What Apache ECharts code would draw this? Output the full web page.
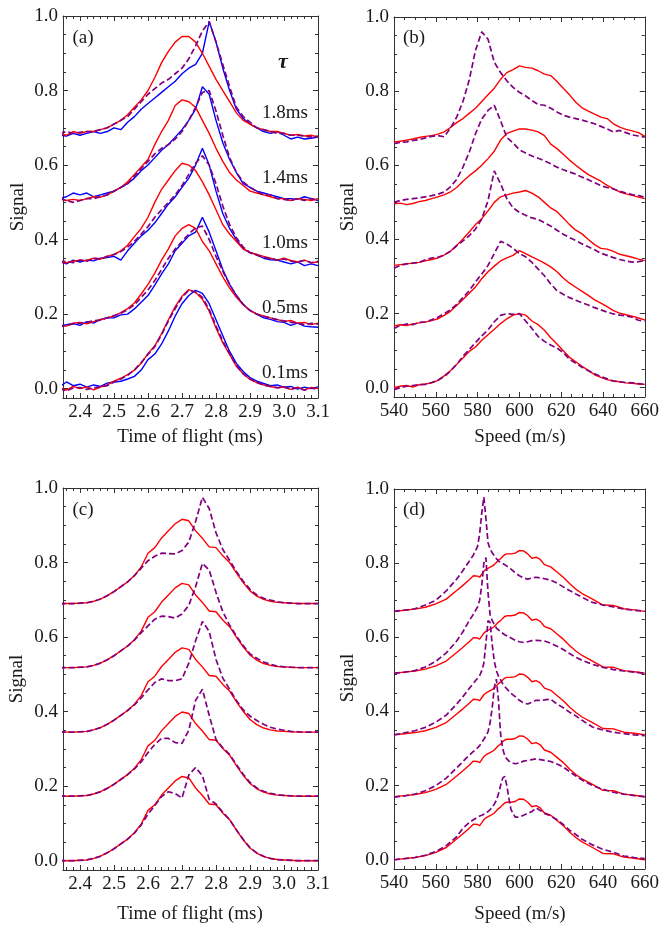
<!DOCTYPE html>
<html><head><meta charset="utf-8">
<script src="https://cdn.jsdelivr.net/npm/echarts@6/dist/echarts.min.js"></script>
<style>html,body{margin:0;padding:0;background:#fff}#c{width:662px;height:925px}</style>
</head><body><div id="c"></div>
<script>
// ---------- DATA ----------
const tofGrid = [2.34,2.36,2.38,2.40,2.42,2.44,2.46,2.48,2.50,2.52,2.54,2.56,2.58,2.60,2.62,2.64,2.66,2.68,2.70,2.72,2.74,2.76,2.78,2.80,2.82,2.84,2.86,2.88,2.90,2.92,2.94,2.96,2.98,3.00,3.02,3.04,3.06,3.08,3.10];
const speedGridB = [540,543,546,549,552,555,558,561,564,567,570,573,576,579,582,585,588,591,594,597,600,603,606,609,612,615,618,621,624,627,630,633,636,639,642,645,648,651,654,657,660];
const speedGridD = [540,545,550,555,560,565,570,573,576,578,580,581,582,583,584,585,586,587,588,589,590,591,592,593,594,595,596,598,600,602,604,606,608,610,612,615,618,621,624,627,630,635,640,645,650,655,660];

const tauLabels = ['0.1ms','0.5ms','1.0ms','1.4ms','1.8ms'];
const tofTicks = [2.4,2.5,2.6,2.7,2.8,2.9,3.0,3.1];
const speedTicks = [540,560,580,600,620,640,660];
const signalTicks = [0,0.2,0.4,0.6,0.8,1.0];

// panel (a): time of flight, red / blue / purple dashed
const aRed01 = [0.003,-0.004,0.006,0.0,0.005,-0.003,0.004,0.01,0.02,0.028,0.038,0.05,0.068,0.094,0.115,0.148,0.185,0.22,0.248,0.266,0.258,0.24,0.208,0.163,0.123,0.092,0.06,0.04,0.025,0.016,0.01,0.006,0.002,0.005,-0.002,0.004,-0.003,0.003,0.0];
const aBlue01 = [0.005,0.018,0.008,0.012,0.004,0.01,0.006,0.015,0.018,0.02,0.026,0.033,0.05,0.078,0.093,0.12,0.155,0.195,0.228,0.25,0.264,0.256,0.228,0.185,0.142,0.1,0.068,0.046,0.03,0.02,0.014,0.008,0.01,0.004,0.006,-0.001,0.004,0.0,0.005];
const aPur01 = [0.0,-0.006,0.002,0.003,-0.002,0.002,0.005,0.008,0.018,0.026,0.036,0.05,0.07,0.092,0.113,0.145,0.182,0.215,0.245,0.264,0.26,0.245,0.212,0.168,0.128,0.094,0.062,0.04,0.026,0.017,0.01,0.006,0.003,0.004,-0.001,0.002,-0.004,0.002,-0.002];
const aRed05 = [0.17,0.168,0.176,0.178,0.174,0.18,0.185,0.19,0.195,0.204,0.215,0.23,0.254,0.28,0.31,0.345,0.375,0.41,0.43,0.44,0.43,0.395,0.37,0.335,0.3,0.27,0.245,0.225,0.21,0.2,0.195,0.19,0.186,0.18,0.183,0.176,0.178,0.172,0.176];
const aBlue05 = [0.168,0.172,0.175,0.17,0.18,0.176,0.186,0.19,0.19,0.198,0.2,0.214,0.232,0.25,0.278,0.308,0.335,0.37,0.39,0.41,0.42,0.46,0.42,0.37,0.32,0.28,0.25,0.226,0.21,0.2,0.19,0.186,0.18,0.178,0.17,0.176,0.168,0.166,0.165];
const aPur05 = [0.166,0.17,0.174,0.176,0.178,0.182,0.184,0.19,0.196,0.202,0.212,0.225,0.245,0.265,0.29,0.32,0.35,0.375,0.395,0.415,0.432,0.436,0.4,0.355,0.315,0.28,0.25,0.226,0.21,0.2,0.194,0.19,0.185,0.182,0.178,0.176,0.172,0.175,0.173];
const aRed10 = [0.34,0.338,0.342,0.345,0.344,0.35,0.348,0.355,0.36,0.37,0.385,0.408,0.43,0.46,0.5,0.535,0.56,0.585,0.605,0.6,0.585,0.555,0.52,0.48,0.44,0.415,0.395,0.375,0.365,0.36,0.355,0.35,0.345,0.35,0.344,0.34,0.345,0.338,0.34];
const aBlue10 = [0.34,0.335,0.345,0.34,0.345,0.343,0.35,0.352,0.355,0.345,0.37,0.39,0.41,0.425,0.445,0.47,0.495,0.515,0.54,0.565,0.6,0.645,0.6,0.53,0.47,0.43,0.4,0.375,0.365,0.36,0.35,0.346,0.345,0.34,0.335,0.34,0.33,0.335,0.33];
const aPur10 = [0.34,0.342,0.338,0.345,0.342,0.35,0.348,0.355,0.36,0.368,0.38,0.395,0.415,0.435,0.46,0.48,0.5,0.52,0.545,0.575,0.605,0.625,0.6,0.55,0.49,0.44,0.405,0.38,0.365,0.358,0.352,0.35,0.345,0.348,0.342,0.34,0.344,0.338,0.342];
const aRed14 = [0.51,0.505,0.508,0.505,0.51,0.515,0.514,0.52,0.53,0.54,0.555,0.575,0.595,0.615,0.655,0.69,0.72,0.76,0.775,0.77,0.755,0.72,0.685,0.645,0.61,0.58,0.56,0.545,0.53,0.525,0.52,0.515,0.51,0.51,0.505,0.51,0.508,0.505,0.51];
const aBlue14 = [0.51,0.515,0.525,0.52,0.525,0.515,0.52,0.525,0.53,0.54,0.55,0.565,0.585,0.6,0.62,0.64,0.655,0.675,0.695,0.72,0.75,0.81,0.79,0.72,0.66,0.615,0.58,0.55,0.54,0.53,0.525,0.52,0.515,0.51,0.51,0.508,0.515,0.51,0.505];
const aPur14 = [0.51,0.505,0.5,0.505,0.51,0.51,0.515,0.52,0.53,0.54,0.55,0.57,0.59,0.61,0.63,0.645,0.655,0.67,0.69,0.72,0.755,0.795,0.8,0.745,0.68,0.62,0.58,0.555,0.54,0.53,0.52,0.52,0.51,0.508,0.505,0.51,0.505,0.51,0.505];
const aRed18 = [0.685,0.68,0.69,0.685,0.69,0.69,0.695,0.7,0.71,0.72,0.735,0.755,0.775,0.8,0.835,0.875,0.905,0.93,0.945,0.945,0.93,0.9,0.865,0.83,0.8,0.77,0.74,0.72,0.71,0.7,0.695,0.69,0.69,0.685,0.68,0.682,0.678,0.68,0.675];
const aBlue18 = [0.68,0.678,0.685,0.68,0.685,0.69,0.685,0.69,0.7,0.695,0.715,0.73,0.75,0.765,0.78,0.795,0.81,0.825,0.845,0.86,0.87,0.9,0.985,0.93,0.86,0.8,0.75,0.725,0.71,0.7,0.69,0.685,0.69,0.68,0.67,0.675,0.67,0.672,0.675];
const aPur18 = [0.685,0.69,0.685,0.688,0.69,0.69,0.695,0.7,0.71,0.72,0.73,0.75,0.77,0.79,0.805,0.82,0.83,0.845,0.86,0.885,0.92,0.96,0.985,0.93,0.87,0.81,0.755,0.73,0.715,0.7,0.695,0.69,0.685,0.685,0.68,0.68,0.678,0.675,0.678];

// panel (b): speed, red / purple dashed
const bRed1 = [0,0.004,0.006,0.002,0.008,0.01,0.013,0.02,0.032,0.046,0.063,0.08,0.098,0.11,0.128,0.143,0.158,0.173,0.186,0.196,0.2,0.196,0.18,0.17,0.155,0.135,0.118,0.1,0.082,0.07,0.058,0.047,0.035,0.028,0.022,0.018,0.016,0.013,0.012,0.01,0.009];
const bPur1 = [-0.005,0.0,0.004,0.006,0.008,0.009,0.014,0.02,0.03,0.045,0.063,0.085,0.103,0.122,0.14,0.156,0.178,0.195,0.2,0.198,0.2,0.18,0.16,0.138,0.125,0.115,0.107,0.095,0.077,0.066,0.055,0.046,0.038,0.03,0.024,0.018,0.016,0.014,0.013,0.011,0.009];
const bRed2 = [0.167,0.17,0.168,0.172,0.175,0.177,0.181,0.186,0.195,0.206,0.222,0.238,0.255,0.272,0.294,0.313,0.328,0.342,0.35,0.357,0.37,0.362,0.353,0.345,0.336,0.326,0.313,0.296,0.282,0.271,0.26,0.249,0.237,0.228,0.219,0.208,0.201,0.197,0.193,0.188,0.183];
const bPur2 = [0.16,0.168,0.172,0.17,0.176,0.178,0.183,0.19,0.2,0.21,0.225,0.243,0.262,0.285,0.307,0.33,0.362,0.395,0.388,0.376,0.362,0.353,0.338,0.32,0.302,0.28,0.262,0.252,0.243,0.236,0.229,0.223,0.216,0.21,0.204,0.199,0.196,0.194,0.19,0.182,0.18];
const bRed3 = [0.33,0.332,0.334,0.336,0.338,0.342,0.346,0.35,0.358,0.368,0.384,0.401,0.42,0.44,0.456,0.477,0.5,0.515,0.52,0.525,0.528,0.532,0.525,0.515,0.5,0.485,0.475,0.458,0.44,0.425,0.415,0.4,0.386,0.376,0.374,0.368,0.36,0.356,0.352,0.347,0.343];
const bPur3 = [0.322,0.33,0.334,0.336,0.338,0.345,0.35,0.352,0.358,0.368,0.383,0.396,0.41,0.428,0.455,0.505,0.585,0.55,0.51,0.485,0.473,0.465,0.458,0.454,0.445,0.436,0.425,0.414,0.405,0.397,0.388,0.38,0.372,0.363,0.357,0.351,0.346,0.342,0.339,0.34,0.343];
const bRed4 = [0.496,0.498,0.494,0.497,0.502,0.505,0.51,0.515,0.52,0.528,0.54,0.557,0.572,0.585,0.6,0.618,0.638,0.668,0.686,0.692,0.698,0.698,0.695,0.69,0.68,0.657,0.645,0.63,0.614,0.6,0.587,0.575,0.566,0.557,0.546,0.537,0.528,0.523,0.519,0.514,0.51];
const bPur4 = [0.5,0.505,0.508,0.51,0.512,0.515,0.518,0.522,0.528,0.542,0.562,0.595,0.635,0.685,0.725,0.748,0.762,0.72,0.675,0.66,0.642,0.633,0.625,0.619,0.612,0.604,0.595,0.588,0.582,0.576,0.568,0.561,0.553,0.545,0.54,0.536,0.53,0.525,0.521,0.518,0.514];
const bRed5 = [0.663,0.665,0.668,0.671,0.675,0.678,0.68,0.684,0.69,0.702,0.715,0.726,0.74,0.754,0.772,0.79,0.808,0.832,0.85,0.858,0.868,0.864,0.862,0.855,0.846,0.842,0.826,0.808,0.79,0.77,0.755,0.746,0.738,0.73,0.726,0.712,0.703,0.697,0.693,0.688,0.678];
const bPur5 = [0.658,0.662,0.663,0.667,0.669,0.674,0.678,0.68,0.677,0.7,0.73,0.772,0.83,0.91,0.96,0.94,0.878,0.85,0.828,0.81,0.797,0.787,0.775,0.764,0.762,0.754,0.744,0.735,0.73,0.726,0.722,0.717,0.712,0.705,0.698,0.69,0.694,0.688,0.682,0.679,0.676];

// panel (c): time of flight, red / purple dashed
const cRed1 = [0,0,0,0.001,0.002,0.006,0.012,0.021,0.032,0.045,0.058,0.075,0.098,0.135,0.15,0.176,0.195,0.214,0.226,0.222,0.195,0.175,0.152,0.15,0.128,0.11,0.082,0.056,0.034,0.02,0.011,0.006,0.003,0.002,0.001,0,0,0,0];
const cPur1 = [0,0,0,0.001,0.002,0.006,0.012,0.021,0.032,0.045,0.058,0.074,0.096,0.125,0.148,0.172,0.185,0.18,0.168,0.23,0.25,0.228,0.165,0.152,0.13,0.11,0.083,0.057,0.035,0.021,0.012,0.006,0.003,0.002,0.001,0,0,0,0];
const cRed2 = [0.173,0.173,0.173,0.174,0.175,0.179,0.185,0.194,0.205,0.218,0.231,0.248,0.271,0.308,0.323,0.349,0.368,0.387,0.399,0.395,0.368,0.348,0.325,0.323,0.301,0.283,0.255,0.229,0.207,0.193,0.184,0.179,0.176,0.175,0.174,0.173,0.173,0.173,0.173];
const cPur2 = [0.173,0.173,0.173,0.174,0.175,0.179,0.185,0.194,0.205,0.218,0.231,0.246,0.265,0.29,0.312,0.328,0.328,0.317,0.315,0.35,0.43,0.46,0.39,0.325,0.303,0.285,0.258,0.232,0.21,0.195,0.186,0.181,0.177,0.175,0.174,0.173,0.173,0.173,0.173];
const cRed3 = [0.345,0.345,0.345,0.346,0.347,0.351,0.357,0.366,0.377,0.39,0.403,0.42,0.443,0.48,0.495,0.521,0.54,0.559,0.571,0.567,0.54,0.52,0.497,0.495,0.473,0.455,0.427,0.401,0.379,0.365,0.356,0.351,0.348,0.347,0.346,0.345,0.345,0.345,0.345];
const cPur3 = [0.345,0.345,0.345,0.346,0.347,0.351,0.357,0.366,0.377,0.39,0.403,0.418,0.437,0.458,0.478,0.488,0.483,0.483,0.488,0.53,0.59,0.642,0.615,0.54,0.49,0.46,0.43,0.405,0.388,0.376,0.366,0.358,0.353,0.35,0.347,0.346,0.345,0.345,0.345];
const cRed4 = [0.518,0.518,0.518,0.519,0.52,0.524,0.53,0.539,0.55,0.563,0.576,0.593,0.616,0.653,0.668,0.694,0.713,0.732,0.744,0.74,0.713,0.693,0.67,0.668,0.646,0.628,0.6,0.574,0.552,0.538,0.529,0.524,0.521,0.52,0.519,0.518,0.518,0.518,0.518];
const cPur4 = [0.518,0.518,0.518,0.519,0.52,0.524,0.53,0.539,0.55,0.563,0.576,0.592,0.612,0.63,0.648,0.656,0.655,0.651,0.662,0.685,0.735,0.798,0.78,0.72,0.668,0.632,0.603,0.577,0.555,0.543,0.533,0.527,0.522,0.52,0.519,0.518,0.518,0.518,0.518];
const cRed5 = [0.69,0.69,0.69,0.691,0.692,0.696,0.702,0.711,0.722,0.735,0.748,0.765,0.788,0.825,0.84,0.866,0.885,0.904,0.916,0.912,0.885,0.865,0.842,0.84,0.818,0.8,0.772,0.746,0.724,0.71,0.701,0.696,0.693,0.692,0.691,0.69,0.69,0.69,0.69];
const cPur5 = [0.69,0.69,0.69,0.691,0.692,0.696,0.702,0.711,0.722,0.735,0.748,0.765,0.785,0.805,0.817,0.825,0.824,0.823,0.832,0.855,0.91,0.975,0.945,0.88,0.835,0.806,0.776,0.75,0.728,0.713,0.704,0.699,0.695,0.692,0.691,0.69,0.69,0.69,0.69];

// panel (d): speed, red / purple dashed
const dRed1 = [0,0.003,0.006,0.011,0.02,0.033,0.056,0.07,0.085,0.096,0.095,0.092,0.1,0.108,0.113,0.116,0.119,0.122,0.126,0.132,0.138,0.142,0.148,0.153,0.155,0.155,0.155,0.157,0.164,0.163,0.155,0.143,0.146,0.14,0.126,0.12,0.106,0.092,0.075,0.06,0.048,0.033,0.017,0.016,0.007,0.004,0];
const dPur1 = [0,0.003,0.006,0.012,0.022,0.038,0.062,0.085,0.1,0.108,0.115,0.118,0.12,0.123,0.126,0.13,0.135,0.142,0.15,0.16,0.178,0.2,0.22,0.225,0.2,0.165,0.135,0.115,0.115,0.12,0.125,0.13,0.14,0.133,0.125,0.118,0.108,0.095,0.08,0.068,0.055,0.04,0.028,0.02,0.01,0.006,0.003];
const dRed2 = [0.17,0.173,0.176,0.181,0.19,0.203,0.226,0.24,0.255,0.266,0.265,0.262,0.27,0.278,0.283,0.286,0.289,0.292,0.296,0.302,0.308,0.312,0.318,0.323,0.325,0.325,0.325,0.327,0.334,0.333,0.325,0.313,0.316,0.31,0.296,0.29,0.276,0.262,0.245,0.23,0.218,0.203,0.187,0.186,0.177,0.174,0.17];
const dPur2 = [0.169,0.172,0.177,0.186,0.2,0.22,0.248,0.265,0.282,0.292,0.302,0.308,0.316,0.325,0.335,0.345,0.37,0.41,0.465,0.487,0.43,0.34,0.3,0.28,0.272,0.266,0.262,0.259,0.261,0.266,0.268,0.27,0.272,0.27,0.268,0.265,0.258,0.25,0.238,0.226,0.215,0.2,0.19,0.182,0.177,0.173,0.17];
const dRed3 = [0.337,0.34,0.343,0.348,0.357,0.37,0.393,0.407,0.422,0.433,0.432,0.429,0.437,0.445,0.45,0.453,0.456,0.459,0.463,0.469,0.475,0.479,0.485,0.49,0.492,0.492,0.492,0.494,0.501,0.5,0.492,0.48,0.483,0.477,0.463,0.457,0.443,0.429,0.412,0.397,0.385,0.37,0.354,0.353,0.344,0.341,0.337];
const dPur3 = [0.337,0.342,0.348,0.357,0.371,0.39,0.42,0.44,0.462,0.476,0.49,0.497,0.51,0.53,0.585,0.645,0.64,0.58,0.535,0.51,0.495,0.485,0.475,0.467,0.461,0.455,0.449,0.44,0.43,0.423,0.42,0.425,0.43,0.43,0.431,0.433,0.42,0.41,0.398,0.388,0.376,0.358,0.35,0.344,0.34,0.337,0.335];
const dRed4 = [0.503,0.506,0.509,0.514,0.523,0.536,0.559,0.573,0.588,0.599,0.598,0.595,0.603,0.611,0.616,0.619,0.622,0.625,0.629,0.635,0.641,0.645,0.651,0.656,0.658,0.658,0.658,0.66,0.667,0.666,0.658,0.646,0.649,0.643,0.629,0.623,0.609,0.595,0.578,0.563,0.551,0.536,0.52,0.519,0.51,0.507,0.503];
const dPur4 = [0.503,0.506,0.51,0.52,0.535,0.558,0.59,0.615,0.645,0.662,0.682,0.7,0.74,0.8,0.815,0.72,0.66,0.645,0.635,0.625,0.62,0.615,0.611,0.607,0.604,0.601,0.598,0.592,0.588,0.586,0.588,0.591,0.592,0.591,0.59,0.584,0.576,0.567,0.556,0.546,0.538,0.527,0.519,0.513,0.509,0.506,0.503];
const dRed5 = [0.67,0.673,0.676,0.681,0.69,0.703,0.726,0.74,0.755,0.766,0.765,0.762,0.77,0.778,0.783,0.786,0.789,0.792,0.796,0.802,0.808,0.812,0.818,0.823,0.825,0.825,0.825,0.827,0.834,0.833,0.825,0.813,0.816,0.81,0.796,0.79,0.776,0.762,0.745,0.73,0.718,0.703,0.687,0.686,0.677,0.674,0.67];
const dPur5 = [0.67,0.673,0.677,0.687,0.7,0.725,0.757,0.78,0.805,0.822,0.845,0.88,0.935,0.978,0.92,0.855,0.838,0.828,0.82,0.812,0.806,0.802,0.799,0.796,0.792,0.788,0.784,0.774,0.766,0.76,0.757,0.76,0.762,0.76,0.758,0.754,0.746,0.736,0.726,0.717,0.708,0.694,0.687,0.682,0.676,0.673,0.67];

// ---------- STYLE / LAYOUT ----------
const FONT = '"Liberation Serif", "Times New Roman", serif';
const AX = '#333';
const TXT = '#1a1a1a';
const RED = '#ff0000', BLUE = '#0000ff', PURPLE = '#800080';

const grids = [
  {left: 63, top: 16, width: 255, height: 382},
  {left: 394, top: 17, width: 253, height: 380},
  {left: 63, top: 488, width: 255, height: 382},
  {left: 394, top: 489, width: 253, height: 380}
];

function stepList(a, b, step, dec) {
  const out = [];
  const n = Math.round((b - a) / step);
  for (let k = 0; k <= n; k++) out.push(+(a + k * step).toFixed(dec));
  return out;
}
const tofMinor = stepList(2.36, 3.10, 0.02, 2);
const speedMinor = stepList(540, 660, 5, 0);
const signalMinor = stepList(0, 1, 0.05, 2);

function axesFor(dim, gi, min, max, majors, minors, fmt) {
  const sides = dim === 'x' ? ['bottom', 'top'] : ['left', 'right'];
  const out = [];
  sides.forEach((pos, si) => {
    out.push({
      type: 'value', gridIndex: gi, position: pos, min: min, max: max,
      splitLine: {show: false},
      axisLine: {show: true, onZero: false, lineStyle: {color: AX, width: 1}},
      axisTick: {show: true, inside: true, length: 5, customValues: majors, lineStyle: {color: AX, width: 1}},
      axisLabel: {show: si === 0, customValues: majors, formatter: fmt, margin: 5,
        fontFamily: FONT, fontSize: 19, color: TXT}
    });
    out.push({
      type: 'value', gridIndex: gi, position: pos, min: min, max: max,
      splitLine: {show: false},
      axisLine: {show: false, onZero: false},
      axisTick: {show: true, inside: true, length: 3, customValues: minors, lineStyle: {color: AX, width: 1}},
      axisLabel: {show: false}
    });
  });
  return out;
}

const f1 = v => Number(v).toFixed(1);
const f0 = v => String(Math.round(v));

let xAxes = [], yAxes = [];
[0, 1, 2, 3].forEach(gi => {
  const isTof = (gi === 0 || gi === 2);
  xAxes = xAxes.concat(isTof
    ? axesFor('x', gi, 2.35, 3.1, tofTicks, tofMinor, f1)
    : axesFor('x', gi, 540, 660, speedTicks, speedMinor, f0));
  yAxes = yAxes.concat(axesFor('y', gi, -0.025, 1.0, signalTicks, signalMinor, f1));
});

function line(gi, xs, ys, kind) {
  const color = kind === 'r' ? RED : (kind === 'b' ? BLUE : PURPLE);
  return {
    type: 'line', xAxisIndex: gi * 4, yAxisIndex: gi * 4,
    data: xs.map((x, i) => [x, ys[i]]),
    showSymbol: false, symbol: 'none', animation: false, clip: true,
    lineStyle: {color: color, width: kind === 'p' ? 1.7 : 1.4, type: kind === 'p' ? [6, 3] : 'solid'},
    z: kind === 'p' ? 4 : (kind === 'r' ? 3 : 2)
  };
}

const series = [];
[[aBlue01, aRed01, aPur01], [aBlue05, aRed05, aPur05], [aBlue10, aRed10, aPur10],
 [aBlue14, aRed14, aPur14], [aBlue18, aRed18, aPur18]].forEach(g => {
  series.push(line(0, tofGrid, g[0], 'b'));
  series.push(line(0, tofGrid, g[1], 'r'));
  series.push(line(0, tofGrid, g[2], 'p'));
});
[[bRed1, bPur1], [bRed2, bPur2], [bRed3, bPur3], [bRed4, bPur4], [bRed5, bPur5]].forEach(g => {
  series.push(line(1, speedGridB, g[0], 'r'));
  series.push(line(1, speedGridB, g[1], 'p'));
});
[[cRed1, cPur1], [cRed2, cPur2], [cRed3, cPur3], [cRed4, cPur4], [cRed5, cPur5]].forEach(g => {
  series.push(line(2, tofGrid, g[0], 'r'));
  series.push(line(2, tofGrid, g[1], 'p'));
});
[[dRed1, dPur1], [dRed2, dPur2], [dRed3, dPur3], [dRed4, dPur4], [dRed5, dPur5]].forEach(g => {
  series.push(line(3, speedGridD, g[0], 'r'));
  series.push(line(3, speedGridD, g[1], 'p'));
});

function txt(text, x, y, opt) {
  opt = opt || {};
  return {
    type: 'text', x: x, y: y, rotation: opt.rot || 0, silent: true, z: 100,
    style: {text: text, fontFamily: FONT, fontSize: opt.size || 19, fontStyle: opt.italic ? 'italic' : 'normal',
      fontWeight: opt.bold ? 'bold' : 'normal',
      fill: TXT, align: 'center', verticalAlign: 'middle'}
  };
}

const graphics = [
  txt('(a)', 83, 38), txt('(b)', 414, 38), txt('(c)', 83, 510), txt('(d)', 414, 510),
  txt('Signal', 18, 207, {rot: Math.PI / 2}), txt('Signal', 348, 207, {rot: Math.PI / 2}),
  txt('Signal', 17, 679, {rot: Math.PI / 2}), txt('Signal', 348, 678, {rot: Math.PI / 2}),
  txt('Time of flight (ms)', 190, 437), txt('Speed (m/s)', 520, 437),
  txt('Time of flight (ms)', 190, 914), txt('Speed (m/s)', 520, 914),
  txt('\u03c4', 283, 62, {italic: true, size: 22, bold: true})
];
const tauY = [373, 308, 243, 178, 113];
tauLabels.forEach((t, i) => graphics.push(txt(t, 285, tauY[i])));

const chart = echarts.init(document.getElementById('c'), null, {renderer: 'canvas'});
chart.setOption({
  animation: false,
  backgroundColor: '#ffffff',
  grid: grids,
  xAxis: xAxes,
  yAxis: yAxes,
  series: series,
  graphic: graphics
});
</script></body></html>
